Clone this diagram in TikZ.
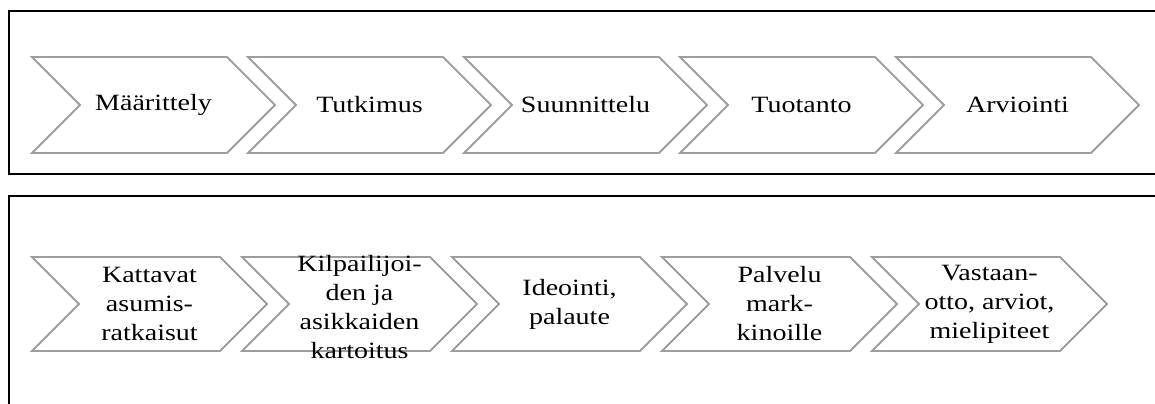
\documentclass[tikz,border=0pt]{standalone}
\usepackage{fontspec}
\setmainfont{Liberation Serif}[FakeStretch=1.2]
\usetikzlibrary{shapes.symbols}

\begin{document}
\begin{tikzpicture}[x=0.75pt, y=-0.75pt,
	frame/.style={draw=black, line width=1.5pt},
	phasetext/.style={align=center, inner sep=0pt, font=\fontsize{17.5}{21.75}\selectfont},
	phase/.style={signal, signal from=west, signal to=east, draw=black!38, fill=white, line width=1.4pt, phasetext, minimum width=182.25pt, minimum height=72pt},
	subphase/.style={phase, minimum width=176.25pt, minimum height=70.5pt}]
	\useasboundingbox (0,0) rectangle (1155,403);
	\clip (0,0) rectangle (1155,403);
	% frames
	\draw[frame] (9,11) rectangle (1170,174);
	\draw[frame] (9,420) |- (1170,196);
	% main phases
	\node[phase] (maar) at (153.5,105) {Määrittely};
	\node[phase] (tutk) at (369.5,105) {Tutkimus};
	\node[phase] (suun) at (585.5,105) {Suunnittelu};
	\node[phase] (tuot) at (801.5,105) {Tuotanto};
	\node[phase] (arvi) at (1017.5,105) {Arviointi};
	% sub phases
	\node[subphase] (asum) at (149.5,304) {Kattavat\\asumis-\\ratkaisut};
	\node[subphase] (kilp) at (359.5,304) {};
	\node[phasetext] (kilptext) at ([yshift=-2pt]kilp.center) {Kilpailijoi-\\den ja\\asikkaiden\\kartoitus};
	\node[subphase] (ideo) at (569.5,304) {Ideointi,\\palaute};
	\node[subphase] (palv) at (779.5,304) {Palvelu\\mark-\\kinoille};
	\node[subphase] (vast) at (989.5,304) {Vastaan-\\otto, arviot,\\mielipiteet};
\end{tikzpicture}
\end{document}
